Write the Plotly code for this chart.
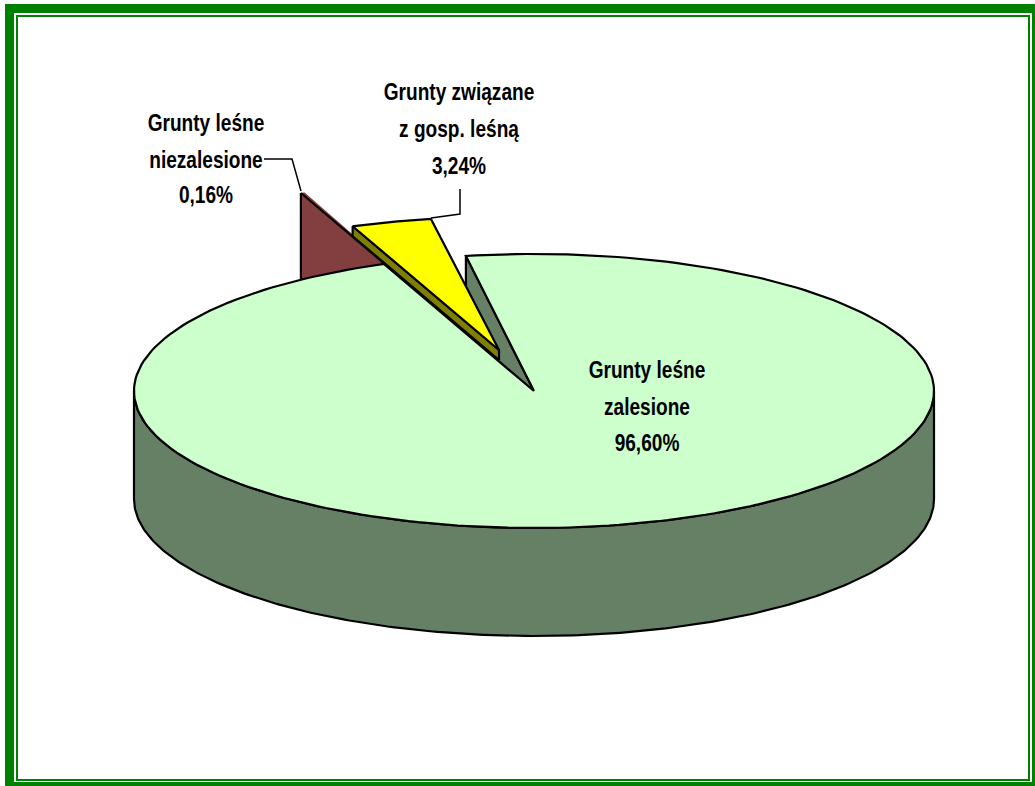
import numpy as np
import plotly.graph_objects as go

# ---- data ----
slice_names = ["Grunty leśne zalesione", "Grunty leśne niezalesione", "Grunty związane z gosp. leśną"]
slice_values = [96.60, 0.16, 3.24]
label_lines = [
    ["Grunty leśne", "zalesione", "96,60%"],
    ["Grunty leśne", "niezalesione", "0,16%"],
    ["Grunty związane", "z gosp. leśną", "3,24%"],
]

# ---- styling / geometry of the drawing ----
W, H = 1035, 786
START = -9.8           # degrees clockwise from 12 o'clock
TOP = ["#CCFFCC", "#833F3F", "#FFFF00"]
SIDE = ["#668066", "#833F3F", "#808000"]
GEOM = [  # cx, cy, rx, ry, depth
    (534, 391, 400, 137, 108),
    (451, 320, 400, 137, 108),
    (499, 350, 400, 133, 10),
]
LABEL_X = [647, 206, 459]
LABEL_Y = [[372.5, 409.5, 445.5], [125.5, 162.5, 197.5], [94.5, 131.5, 168.5]]
LEADERS = [([264, 292, 301], [159, 159, 191]), ([460, 460, 431], [189, 214, 218])]
LINE = dict(color="black", width=2.2)
NOLINE = dict(width=0)

shares = np.array(slice_values) / sum(slice_values) * 360
edges = START + np.concatenate([[0], np.cumsum(shares)])


def rim(i, a, b, n=240):
    cx, cy, rx, ry, _ = GEOM[i]
    t = np.radians(np.linspace(a, b, n))
    return cx + rx * np.sin(t), cy - ry * np.cos(t)


def wedge(i, a, b):
    cx, cy, *_ = GEOM[i]
    x, y = rim(i, a, b)
    return np.r_[cx, x, cx], np.r_[cy, y, cy]


def radial_wall(i, a):
    cx, cy, _, _, d = GEOM[i]
    x, y = rim(i, a, a, 1)
    return [x[0], cx, cx, x[0], x[0]], [y[0], cy, cy + d, y[0] + d, y[0]]


def poly(x, y, color, lw=LINE):
    return go.Scatter(x=x, y=y, mode="lines", fill="toself", fillcolor=color,
                      line=lw, hoverinfo="skip", showlegend=False)


fig = go.Figure()

# brown slice (behind everything)
a1, b1 = edges[1], edges[2]
x, y = wedge(1, a1, b1)
fig.add_trace(poly(x, y, TOP[1], NOLINE))
x, y = radial_wall(1, a1)
fig.add_trace(poly(x, y, SIDE[1]))

# green slice: notch wall, front wall, top
a0, b0 = edges[0], edges[1]
x, y = radial_wall(0, a0)
fig.add_trace(poly(x, y, SIDE[0]))
x, y = rim(0, 90, 270)
d0 = GEOM[0][4]
fig.add_trace(poly(np.r_[x, x[::-1], x[0]], np.r_[y, y[::-1] + d0, y[0]], SIDE[0]))
x, y = wedge(0, a0, b0)
fig.add_trace(poly(x, y, TOP[0]))

# yellow slice: left wall, top
a2, b2 = edges[2], edges[3]
x, y = radial_wall(2, a2)
fig.add_trace(poly(x, y, SIDE[2]))
x, y = wedge(2, a2, b2)
fig.add_trace(poly(x, y, TOP[2]))

# leader lines
for lx, ly in LEADERS:
    fig.add_trace(go.Scatter(x=lx, y=ly, mode="lines", line=dict(color="black", width=1.5),
                             hoverinfo="skip", showlegend=False))

# labels
for lines, lxc, lys in zip(label_lines, LABEL_X, LABEL_Y):
    fig.add_trace(go.Scatter(
        x=[lxc] * len(lines), y=lys, mode="text", text=[f"<b>{t}</b>" for t in lines],
        textposition="middle center",
        textfont=dict(family="Liberation Sans, Arial", size=23, color="black"),
        hoverinfo="skip", showlegend=False))

# frame
G = "#008000"
frame = [(5, 4, 1035, 13), (5, 4, 14, 786), (5, 782, 1035, 786), (1032, 4, 1035, 786),
         (16, 15, 1030, 17), (16, 15, 18, 781), (16, 779, 1030, 781), (1028, 15, 1030, 781)]
shapes = [dict(type="rect", xref="x", yref="y", x0=a, y0=b, x1=c, y1=d,
               fillcolor=G, line_width=0, layer="below") for a, b, c, d in frame]

fig.update_layout(
    width=W, height=H, margin=dict(l=0, r=0, t=0, b=0),
    paper_bgcolor="white", plot_bgcolor="white", shapes=shapes, showlegend=False,
    xaxis=dict(range=[0, W], visible=False, fixedrange=True),
    yaxis=dict(range=[H, 0], visible=False, fixedrange=True),
)
# the reference uses a condensed bold face: narrow each label around its own centre
narrow = """
document.body.style.margin='0';
document.documentElement.style.overflow='hidden';
document.querySelectorAll('.textpoint text').forEach(function(t){
  var x = parseFloat(t.getAttribute('x'));
  var old = t.getAttribute('transform') || '';
  t.setAttribute('transform', old + ' translate(' + x + ' 0) scale(0.83 1) translate(' + (-x) + ' 0)');
});
"""
fig.write_html("out.html", config={"displayModeBar": False}, post_script=narrow)
